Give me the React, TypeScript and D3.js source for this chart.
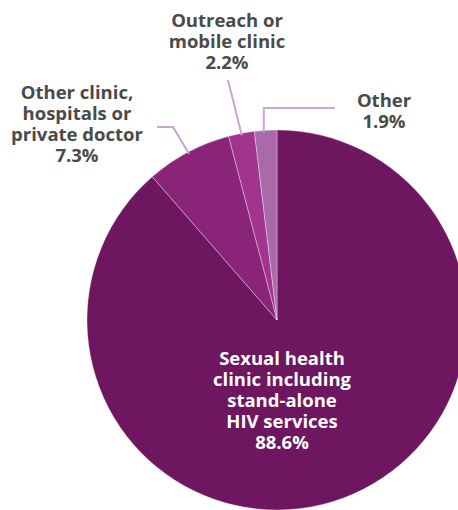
import { useEffect, useRef } from "react";
import * as d3 from "d3";

// Share of respondents by place of test (%), clockwise from 12 o'clock
const categories = [
  "Sexual health clinic including stand-alone HIV services",
  "Other clinic, hospitals or private doctor",
  "Outreach or mobile clinic",
  "Other",
];
const values = [88.6, 7.3, 2.2, 1.9];
const colors = ["#6e1660", "#8a2479", "#a2338f", "#a86aa8"];
const labelLines = [
  ["Sexual health", "clinic including", "stand-alone", "HIV services", "88.6%"],
  ["Other clinic,", "hospitals or", "private doctor", "7.3%"],
  ["Outreach or", "mobile clinic", "2.2%"],
  ["Other", "1.9%"],
];

export default function App() {
  const svgRef = useRef<SVGSVGElement>(null);

  useEffect(() => {
    if (!svgRef.current) return;

    const width = 458;
    const height = 510;
    const cx = 277;
    const cy = 320;
    const radius = 190;

    const svg = d3.select(svgRef.current);
    svg.selectAll("*").remove();

    const pie = d3
      .pie<number>()
      .sort(null)
      .value((d) => d);

    const arcs = pie(values);
    const arc = d3.arc<d3.PieArcDatum<number>>().innerRadius(0).outerRadius(radius);
    const edgeArc = d3
      .arc<d3.PieArcDatum<number>>()
      .innerRadius(radius - 2)
      .outerRadius(radius - 2);

    const g = svg.append("g").attr("transform", `translate(${cx},${cy})`);

    g.selectAll(".slice")
      .data(arcs)
      .enter()
      .append("path")
      .attr("class", "slice")
      .attr("d", arc as any)
      .attr("fill", (_d, i) => colors[i])
      .attr("stroke", "#ffffff")
      .attr("stroke-width", 0.35);

    // leader lines: from slice midpoint on the rim to the label
    const leader = "#c6a6d6";
    const mid = (i: number) => edgeArc.centroid(arcs[i]);

    const [ox, oy] = mid(1);
    const [rx, ry] = mid(2);
    const [tx, ty] = mid(3);

    const leaders: [number, number][][] = [
      [
        [157 - cx, 127 - cy],
        [173 - cx, 127 - cy],
        [ox, oy],
      ],
      [
        [228 - cx, 80 - cy],
        [rx, ry],
      ],
      [
        [335 - cx, 108 - cy],
        [tx - 2, 108 - cy],
        [tx - 2, ty],
      ],
    ];

    const line = d3.line();
    g.selectAll(".leader")
      .data(leaders)
      .enter()
      .append("path")
      .attr("class", "leader")
      .attr("d", (d) => line(d))
      .attr("fill", "none")
      .attr("stroke", leader)
      .attr("stroke-width", 2);

    // label anchors (center x, first baseline)
    const labelPos: [number, number, string][] = [
      [282, 365, "#ffffff"],
      [77, 99, "#4a4a4a"],
      [227, 27, "#4a4a4a"],
      [384, 107, "#4a4a4a"],
    ];
    const lineH = 21;

    labelLines.forEach((lines, i) => {
      const [x, y, fill] = labelPos[i];
      const t = svg
        .append("text")
        .attr("text-anchor", "middle")
        .attr("font-family", "'Open Sans', sans-serif")
        .attr("font-weight", "700")
        .attr("font-size", "18.5px")
        .attr("fill", fill)
        .attr("aria-label", categories[i]);
      lines.forEach((s, j) => {
        t.append("tspan").attr("x", x).attr("y", y + j * lineH).text(s);
      });
    });

    svg.attr("width", width).attr("height", height);
  }, []);

  return (
    <div style={{ position: "absolute", left: 0, top: 0, background: "#fff" }}>
      <svg ref={svgRef} width={458} height={510} style={{ display: "block" }} />
    </div>
  );
}
